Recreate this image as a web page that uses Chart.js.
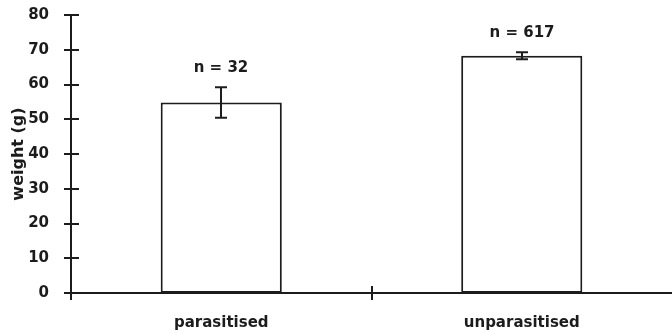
<!DOCTYPE html>
<html>
<head>
<meta charset="utf-8">
<script src="https://cdn.jsdelivr.net/npm/chart.js@4/dist/chart.umd.min.js"></script>
<style>
  html, body { margin: 0; padding: 0; background: #ffffff; overflow: hidden; }
  #wrap { position: relative; width: 672px; height: 334px; }
</style>
</head>
<body>
<div id="wrap"><canvas id="chart"></canvas></div>
<script>
// Mean body weight of the two groups, with error bar half-widths and sample sizes
const categories = ['parasitised', 'unparasitised'];
const meanWeight = [54.8, 68.3];
const errorHalf = [4.4, 1.0];
const sampleLabels = ['n = 32', 'n = 617'];
const yMin = 0;
const yMax = 80;
const yStep = 10;

const INK = '#1c1c1c';
const FONT = { family: '"DejaVu Sans", Arial, sans-serif', size: 15, weight: 'bold' };

// Error bars, sample-size labels and the tick marks that cross the axes
const annotate = {
  id: 'annotate',
  afterDatasetsDraw(chart) {
    const ctx = chart.ctx;
    const x = chart.scales.x;
    const y = chart.scales.y;
    const meta = chart.getDatasetMeta(0);
    ctx.save();
    ctx.strokeStyle = INK;
    ctx.fillStyle = INK;
    ctx.lineWidth = 2;

    // y tick marks, crossing the axis line
    const ax = y.right;
    for (let v = yMin; v <= yMax; v += yStep) {
      const py = Math.round(y.getPixelForValue(v));
      ctx.beginPath();
      ctx.moveTo(ax - 7, py);
      ctx.lineTo(ax + 8, py);
      ctx.stroke();
    }

    // x category boundary ticks
    const base = y.getPixelForValue(0);
    ctx.beginPath();
    ctx.moveTo(ax, base);
    ctx.lineTo(ax, base + 7);
    ctx.stroke();
    for (let i = 0; i < categories.length - 1; i++) {
      const bx = Math.round((x.getPixelForValue(i) + x.getPixelForValue(i + 1)) / 2);
      ctx.beginPath();
      ctx.moveTo(bx, base - 7);
      ctx.lineTo(bx, base + 7);
      ctx.stroke();
    }

    // error bars and n labels
    ctx.font = `${FONT.weight} ${FONT.size}px ${FONT.family}`;
    ctx.textAlign = 'center';
    ctx.textBaseline = 'middle';
    meta.data.forEach((bar, i) => {
      const cx = Math.round(bar.x);
      const top = y.getPixelForValue(meanWeight[i] + errorHalf[i]);
      const bot = y.getPixelForValue(meanWeight[i] - errorHalf[i]);
      const cap = 6;
      ctx.beginPath();
      ctx.moveTo(cx, top);
      ctx.lineTo(cx, bot);
      ctx.moveTo(cx - cap, top);
      ctx.lineTo(cx + cap, top);
      ctx.moveTo(cx - cap, bot);
      ctx.lineTo(cx + cap, bot);
      ctx.stroke();
      ctx.fillText(sampleLabels[i], cx, top - 19);
    });
    ctx.restore();
  }
};

new Chart(document.getElementById('chart'), {
  type: 'bar',
  data: {
    labels: categories,
    datasets: [{
      data: meanWeight,
      backgroundColor: '#ffffff',
      borderColor: INK,
      borderWidth: 2,
      borderSkipped: false,
      categoryPercentage: 1,
      barPercentage: 0.403
    }]
  },
  options: {
    responsive: true,
    maintainAspectRatio: false,
    animation: false,
    events: [],
    layout: { padding: { top: 15, right: 0, left: 0, bottom: 0 } },
    plugins: {
      legend: { display: false },
      tooltip: { enabled: false }
    },
    scales: {
      x: {
        offset: true,
        grid: { display: false },
        border: { display: true, color: INK, width: 2 },
        ticks: { color: INK, font: FONT, padding: 13 },
        afterFit(scale) { scale.height = 41; }
      },
      y: {
        min: yMin,
        max: yMax,
        ticks: { stepSize: yStep, color: INK, font: FONT, padding: 14 },
        grid: { display: false },
        border: { display: true, color: INK, width: 2 },
        title: {
          display: true,
          text: 'weight (g)',
          color: INK,
          font: { family: FONT.family, size: 16, weight: 'bold' },
          padding: { top: 9, bottom: 0 }
        },
        afterFit(scale) {
          scale.width = 71;
          scale.paddingTop = 0;
          scale.paddingBottom = 0;
        }
      }
    }
  },
  plugins: [annotate]
});
</script>
</body>
</html>
